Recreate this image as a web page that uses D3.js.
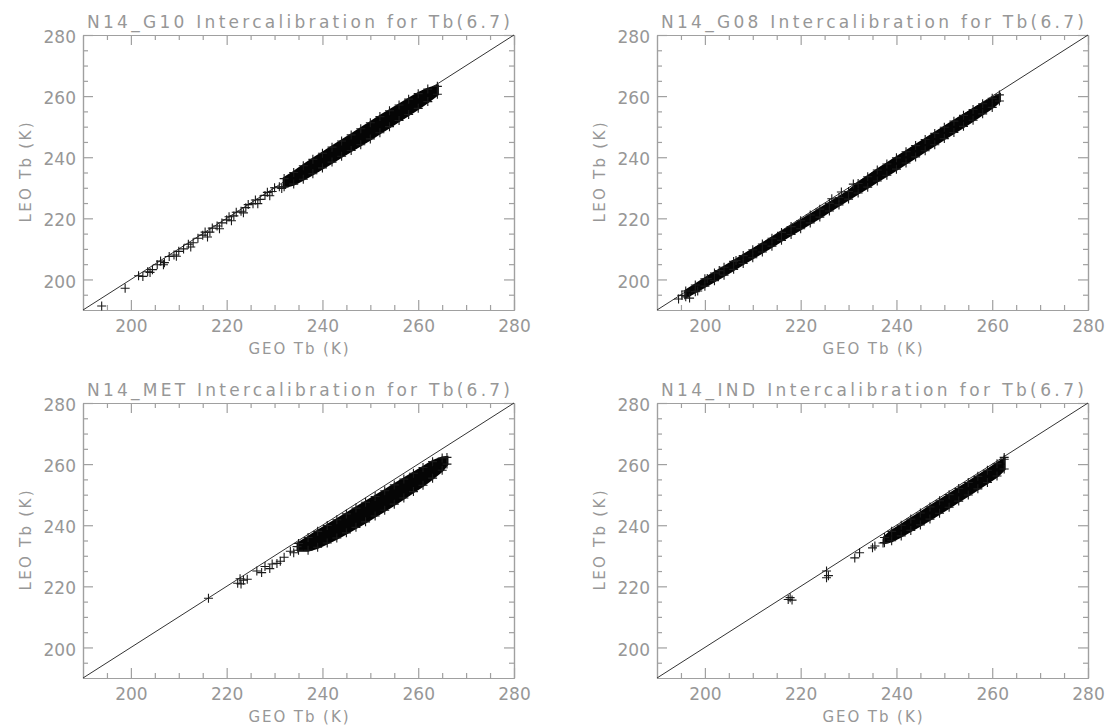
<!DOCTYPE html>
<html>
<head>
<meta charset="utf-8">
<script src="https://cdn.jsdelivr.net/npm/d3@7"></script>
<style>
  body { margin: 0; background: #fff; }
  svg text { font-family: "DejaVu Sans", sans-serif; fill: #979797; }
</style>
</head>
<body>
<div class="chart"></div>
<script>
// panel titles
var titles = ["N14_G10 Intercalibration for Tb(6.7)", "N14_G08 Intercalibration for Tb(6.7)",
              "N14_MET Intercalibration for Tb(6.7)", "N14_IND Intercalibration for Tb(6.7)"];
var xTitle = "GEO Tb (K)";
var yTitle = "LEO Tb (K)";
var axisRange = [190, 280];
var majorTicks = [200, 220, 240, 260, 280];
var minorTicks = [195, 205, 210, 215, 225, 230, 235, 245, 250, 255, 265, 270, 275];
var oneToOne = [190, 280];

// dense core of each scatter: GEO Tb, lowest and highest LEO Tb
var g10BandGeo = [232, 234, 236, 238, 240, 242, 244, 246, 248, 250, 252, 254, 256, 258, 260, 262, 264];
var g10BandLo  = [230.3, 231.2, 232.8, 234.6, 236.5, 238.4, 240.3, 242.2, 244.1, 246, 248, 250, 252, 254, 256, 258.2, 260.6];
var g10BandHi  = [233, 235, 237.2, 239.3, 241.3, 243.3, 245.3, 247.3, 249.3, 251.3, 253.3, 255.2, 257.1, 259, 260.8, 262.3, 263.2];
// sparse points below the core
var g10TailGeo = [193.9, 198.8, 201.6, 202.5, 203.5, 204.5, 205.5, 206.2, 207, 208, 209, 210, 211, 212, 213, 214, 215,
                  215.5, 216.5, 217, 218, 219, 220, 220.5, 221.5, 222, 223, 224, 224.5, 225.5, 226, 227, 228, 228.5, 229.5, 230, 231,
                  204, 206.8, 209.5, 212.5, 216, 218.5, 221, 223.5, 226.5, 229, 231.5];
var g10TailLeo = [191.3, 197.1, 201.2, 201, 202.5, 203.2, 204.8, 206, 205.5, 207.5, 208, 209.2, 210, 211.5, 212, 213.5, 214.5,
                  215.5, 215.5, 216.8, 217.5, 218.5, 219.5, 220.5, 220.8, 222, 222.3, 223.5, 224.5, 224.8, 226, 226.2, 227.5, 228.5, 228.8, 230, 230.3,
                  202.3, 204.8, 207.6, 210.6, 213.9, 216.6, 219.2, 221.8, 224.8, 227.4, 229.8];

var g08BandGeo = [196, 198, 200, 202, 204, 206, 208, 210, 212, 214, 216, 218, 220, 222, 224, 226, 228, 230, 232, 234, 236, 238, 240,
                  242, 244, 246, 248, 250, 252, 254, 256, 258, 260, 261.5];
var g08BandLo  = [194.3, 196, 197.8, 199.6, 201.4, 203.3, 205.2, 207.1, 209, 210.9, 212.8, 214.7, 216.6, 218.5, 220.4, 222.4, 224.4, 226.3, 228.3,
                  230.2, 232.2, 234.1, 236.1, 238.1, 240.1, 242.1, 244.1, 246.1, 248.1, 250.1, 252.1, 254.2, 256.3, 258.4];
var g08BandHi  = [196.2, 198.2, 200.2, 202.1, 204, 205.9, 207.8, 209.7, 211.6, 213.5, 215.4, 217.3, 219.2, 221.1, 223, 224.9, 226.8, 228.8, 231.4,
                  233.6, 235.8, 237.8, 239.8, 241.8, 243.8, 245.8, 247.8, 249.8, 251.8, 253.7, 255.6, 257.5, 259.3, 260.4];
var g08TailGeo = [194.5, 195.2, 196.8, 198.5, 200.5, 203, 206.5, 226.5, 228.5, 231];
var g08TailLeo = [193.6, 194.8, 193.9, 196.2, 200.3, 202.9, 206.2, 226.4, 228.6, 231.2];

var metBandGeo = [235, 237, 239, 241, 243, 245, 247, 249, 251, 253, 255, 257, 259, 261, 263, 265, 266];
var metBandLo  = [231.8, 231.8, 232.8, 234.2, 235.8, 237.5, 239.3, 241.1, 243, 244.9, 246.9, 248.9, 251, 253.1, 255.4, 258, 260];
var metBandHi  = [234, 236, 238, 239.9, 241.8, 243.7, 245.6, 247.5, 249.4, 251.3, 253.2, 255.1, 257, 258.9, 260.8, 262, 262.2];
var metTailGeo = [216.2, 222.3, 223, 223.5, 224.3, 222.8, 226.3, 227.3, 228, 229, 229.5, 230.5, 231.2, 232, 233.3, 234, 234.7];
var metTailLeo = [216.1, 221, 220.8, 222, 222.3, 222.5, 225, 224.5, 226.5, 225.8, 227.3, 227.5, 228.2, 229.5, 231.5, 231, 233];

var indBandGeo = [237.5, 239, 241, 243, 245, 247, 249, 251, 253, 255, 257, 259, 261, 262.5];
var indBandLo  = [234.3, 234.9, 236.5, 238.3, 240.1, 242, 243.9, 245.9, 247.9, 249.9, 251.9, 254, 256.1, 258.4];
var indBandHi  = [236, 238, 240, 242, 244, 246, 248, 250, 252, 254, 256, 258, 260.1, 261.6];
var indTailGeo = [217.4, 217.8, 218.2, 225.4, 225.8, 225.4, 231.3, 232.3, 235, 235.5, 237.2, 262.5];
var indTailLeo = [215.7, 216.3, 215.5, 222.8, 223.5, 225, 229.3, 231, 232.6, 233.2, 234.2, 262.2];

var panels = [
  {title: titles[0], geo: g10BandGeo, lo: g10BandLo, hi: g10BandHi, tx: g10TailGeo, ty: g10TailLeo, left: 83, top: 35},
  {title: titles[1], geo: g08BandGeo, lo: g08BandLo, hi: g08BandHi, tx: g08TailGeo, ty: g08TailLeo, left: 657, top: 35},
  {title: titles[2], geo: metBandGeo, lo: metBandLo, hi: metBandHi, tx: metTailGeo, ty: metTailLeo, left: 83, top: 403},
  {title: titles[3], geo: indBandGeo, lo: indBandLo, hi: indBandHi, tx: indTailGeo, ty: indTailLeo, left: 657, top: 403}
];

var width = 431, height = 275;
var axisColor = "#a0a0a0";

var svg = d3.select(".chart").append("svg")
    .attr("width", 1112)
    .attr("height", 727);

var plus = "M-4.5,0H4.5M0,-4.5V4.5";

panels.forEach(function(p) {
  var x = d3.scaleLinear().domain(axisRange).range([0, width]);
  var y = d3.scaleLinear().domain(axisRange).range([height, 0]);

  var g = svg.append("g").attr("transform", "translate(" + p.left + "," + p.top + ")");

  // minor ticks on all four sides
  g.append("g").call(d3.axisBottom(x).tickValues(minorTicks).tickSizeInner(-5).tickSizeOuter(0).tickFormat(""))
    .attr("transform", "translate(0," + height + ")");
  g.append("g").call(d3.axisTop(x).tickValues(minorTicks).tickSizeInner(-5).tickSizeOuter(0).tickFormat(""));
  g.append("g").call(d3.axisLeft(y).tickValues(minorTicks).tickSizeInner(-5).tickSizeOuter(0).tickFormat(""));
  g.append("g").call(d3.axisRight(y).tickValues(minorTicks).tickSizeInner(-5).tickSizeOuter(0).tickFormat(""))
    .attr("transform", "translate(" + width + ",0)");

  // major ticks, labelled on bottom and left
  g.append("g").attr("class", "xaxis").call(d3.axisBottom(x).tickValues(majorTicks).tickSizeInner(-10).tickSizeOuter(0).tickPadding(10))
    .attr("transform", "translate(0," + height + ")");
  g.append("g").call(d3.axisTop(x).tickValues(majorTicks).tickSizeInner(-10).tickSizeOuter(0).tickFormat(""));
  g.append("g").attr("class", "yaxis").call(d3.axisLeft(y).tickValues(majorTicks).tickSizeInner(-10).tickSizeOuter(0).tickPadding(7));
  g.append("g").call(d3.axisRight(y).tickValues(majorTicks).tickSizeInner(-10).tickSizeOuter(0).tickFormat(""))
    .attr("transform", "translate(" + width + ",0)");

  g.selectAll(".domain, .tick line").attr("stroke", axisColor).attr("stroke-width", 1.2);
  g.selectAll(".tick text")
    .style("font-size", "17px")
    .style("font-family", "DejaVu Sans, sans-serif")
    .attr("fill", "#979797");
  g.selectAll(".yaxis .tick text").attr("dy", "0.45em");

  // 1:1 line
  g.append("path")
    .datum(oneToOne)
    .attr("d", d3.line().x(function(d) { return x(d); }).y(function(d) { return y(d); }))
    .attr("stroke", "#333")
    .attr("stroke-width", 1)
    .attr("fill", "none");

  // dense core
  var band = p.geo.map(function(d, i) { return {geo: d, lo: p.lo[i], hi: p.hi[i]}; });
  g.append("path")
    .datum(band)
    .attr("d", d3.area()
      .x(function(d) { return x(d.geo); })
      .y0(function(d) { return y(d.lo); })
      .y1(function(d) { return y(d.hi); }))
    .attr("fill", "#050505")
    .attr("stroke", "#050505")
    .attr("stroke-width", 3);

  // plus markers on the core edges and the sparse points
  var pts = [];
  band.forEach(function(d) {
    pts.push([d.geo, d.lo]);
    pts.push([d.geo, d.hi]);
  });
  p.tx.forEach(function(d, i) { pts.push([d, p.ty[i]]); });

  g.selectAll(".pt")
    .data(pts)
    .enter().append("path")
    .attr("class", "pt")
    .attr("transform", function(d) { return "translate(" + x(d[0]) + "," + y(d[1]) + ")"; })
    .attr("d", plus)
    .attr("stroke", "#1a1a1a")
    .attr("stroke-width", 1.1)
    .attr("fill", "none");

  // title and axis titles
  g.append("text")
    .attr("x", width / 2)
    .attr("y", -7)
    .attr("text-anchor", "middle")
    .attr("textLength", 423)
    .attr("lengthAdjust", "spacing")
    .style("font-size", "17px")
    .text(p.title);

  g.append("text")
    .attr("x", width / 2)
    .attr("y", height + 44)
    .attr("text-anchor", "middle")
    .attr("textLength", 100)
    .attr("lengthAdjust", "spacing")
    .style("font-size", "15px")
    .text(xTitle);

  g.append("text")
    .attr("transform", "translate(-52," + (height / 2) + ") rotate(-90)")
    .attr("text-anchor", "middle")
    .attr("textLength", 100)
    .attr("lengthAdjust", "spacing")
    .style("font-size", "15px")
    .text(yTitle);
});
</script>
</body>
</html>
